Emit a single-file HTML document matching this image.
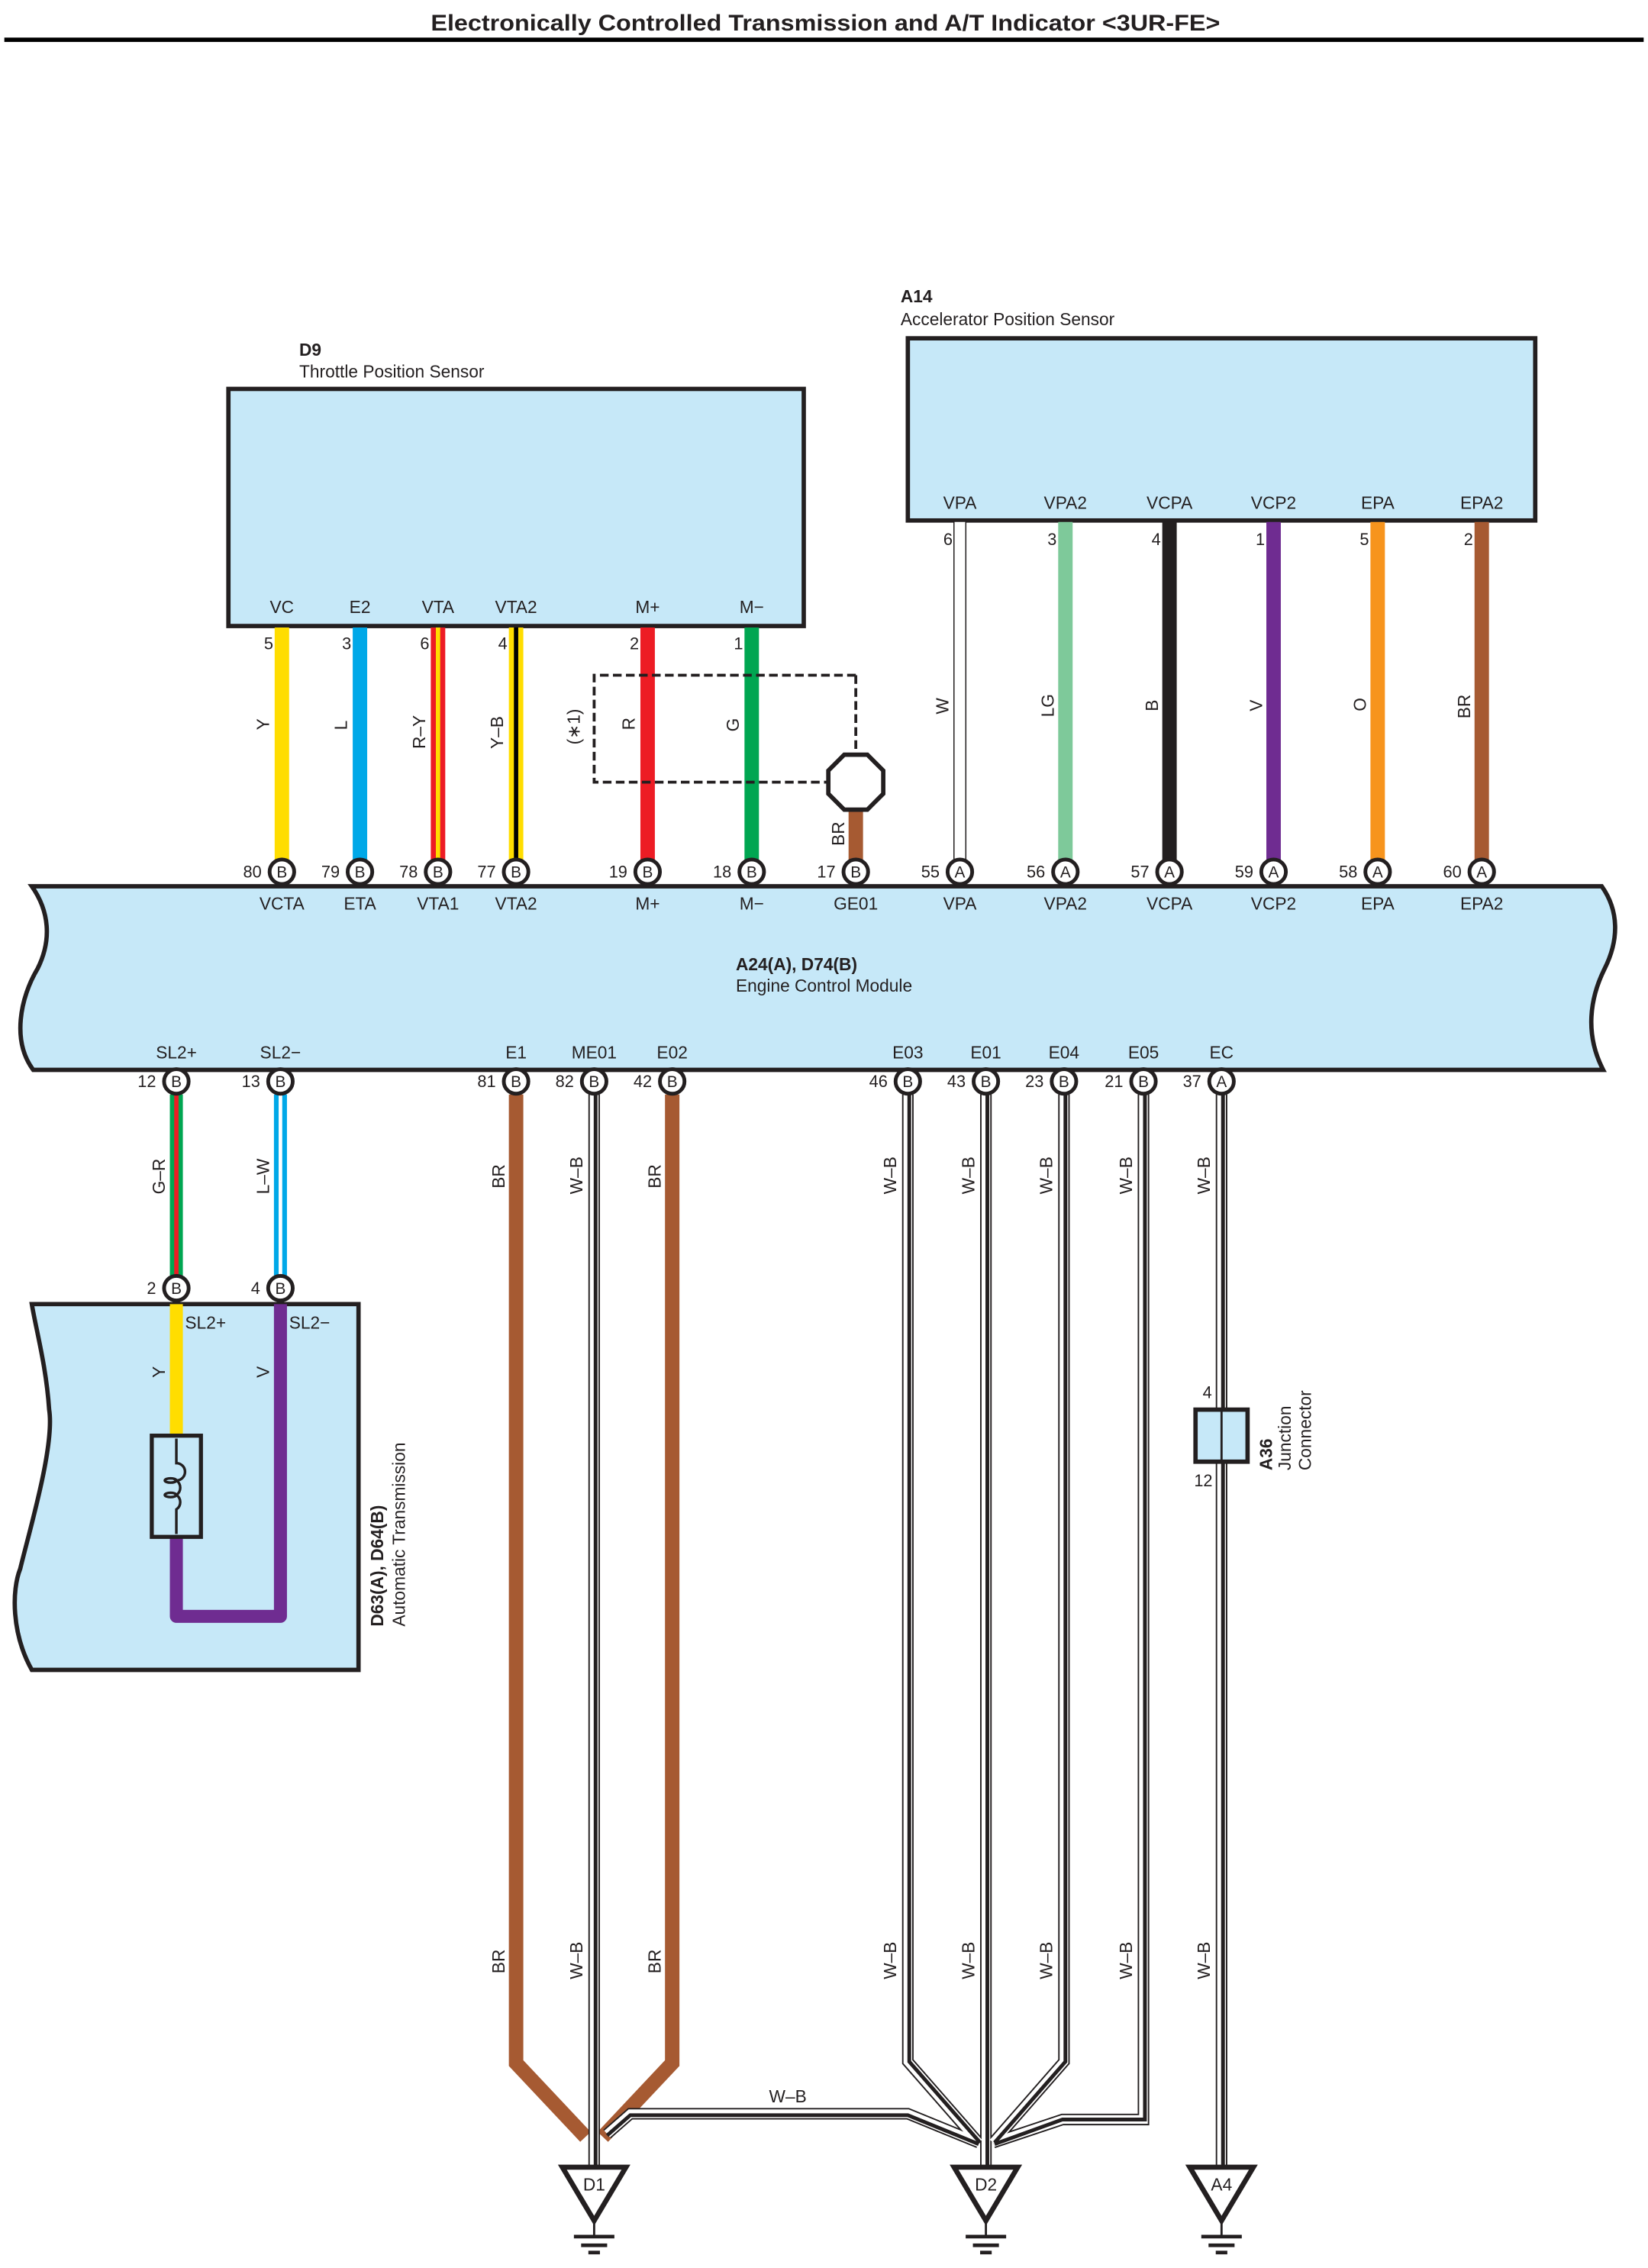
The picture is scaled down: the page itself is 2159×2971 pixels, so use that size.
<!DOCTYPE html>
<html><head><meta charset="utf-8"><style>
html,body{margin:0;padding:0;background:#fff;}
svg{display:block;}
text{font-family:"Liberation Sans",sans-serif;fill:#231f20;}
</style></head><body>
<svg width="2159" height="2971" viewBox="0 0 1140 1568.7" preserveAspectRatio="none" xmlns="http://www.w3.org/2000/svg">
<!-- title -->
<text x="571" y="21" font-size="15.5" font-weight="bold" text-anchor="middle" textLength="546" lengthAdjust="spacingAndGlyphs">Electronically Controlled Transmission and A/T Indicator &lt;3UR-FE&gt;</text>
<rect x="3" y="26" width="1134" height="3" fill="#000"/>

<!-- D9 -->
<text x="207" y="246" font-size="12" font-weight="bold">D9</text>
<text x="207" y="261" font-size="12">Throttle Position Sensor</text>
<rect x="158" y="269" width="398" height="164" fill="#c6e8f8" stroke="#231f20" stroke-width="3"/>
<g font-size="12" text-anchor="middle">
<text x="195" y="424">VC</text><text x="249" y="424">E2</text><text x="303" y="424">VTA</text><text x="357" y="424">VTA2</text><text x="448" y="424">M+</text><text x="520" y="424">M−</text>
</g>
<g font-size="11.5" text-anchor="end">
<text x="189" y="449">5</text><text x="243" y="449">3</text><text x="297" y="449">6</text><text x="351" y="449">4</text><text x="442" y="449">2</text><text x="514" y="449">1</text>
</g>
<!-- D9 wires -->
<line x1="195" y1="434" x2="195" y2="597" stroke="#ffdd00" stroke-width="10"/>
<line x1="249" y1="434" x2="249" y2="597" stroke="#00a8e8" stroke-width="10"/>
<line x1="303" y1="434" x2="303" y2="597" stroke="#ed1c24" stroke-width="10"/>
<line x1="303" y1="434" x2="303" y2="597" stroke="#ffdd00" stroke-width="3"/>
<line x1="357" y1="434" x2="357" y2="597" stroke="#ffdd00" stroke-width="10"/>
<line x1="357" y1="434" x2="357" y2="597" stroke="#000" stroke-width="3"/>
<line x1="448" y1="434" x2="448" y2="597" stroke="#ed1c24" stroke-width="10"/>
<line x1="520" y1="434" x2="520" y2="597" stroke="#00a651" stroke-width="10"/>
<line x1="592" y1="555" x2="592" y2="597" stroke="#a65a32" stroke-width="10"/>
<g font-size="12">
<text transform="translate(186,505) rotate(-90)">Y</text>
<text transform="translate(240,505) rotate(-90)">L</text>
<text transform="translate(294,518) rotate(-90)">R–Y</text>
<text transform="translate(348,518) rotate(-90)">Y–B</text>
<text transform="translate(439,505) rotate(-90)">R</text>
<text transform="translate(511,506) rotate(-90)">G</text>
<text transform="translate(584,585) rotate(-90)">BR</text>
<text transform="translate(401,515) rotate(-90)">(∗1)</text>
</g>
<!-- shield -->
<path d="M592,467 L411,467 L411,541 L572,541" fill="none" stroke="#231f20" stroke-width="2" stroke-dasharray="6,3"/>
<line x1="592" y1="467" x2="592" y2="522" stroke="#231f20" stroke-width="2" stroke-dasharray="6,3"/>
<polygon points="584,522 600,522 611,533 611,549 600,560 584,560 573,549 573,533" fill="#fff" stroke="#231f20" stroke-width="3"/>

<!-- A14 -->
<text x="623" y="209" font-size="12" font-weight="bold">A14</text>
<text x="623" y="225" font-size="12">Accelerator Position Sensor</text>
<rect x="628" y="234" width="434" height="126" fill="#c6e8f8" stroke="#231f20" stroke-width="3"/>
<g font-size="12" text-anchor="middle">
<text x="664" y="352">VPA</text><text x="737" y="352">VPA2</text><text x="809" y="352">VCPA</text><text x="881" y="352">VCP2</text><text x="953" y="352">EPA</text><text x="1025" y="352">EPA2</text>
</g>
<g font-size="11.5" text-anchor="end">
<text x="659" y="377">6</text><text x="731" y="377">3</text><text x="803" y="377">4</text><text x="875" y="377">1</text><text x="947" y="377">5</text><text x="1019" y="377">2</text>
</g>
<line x1="664" y1="361" x2="664" y2="597" stroke="#231f20" stroke-width="9"/>
<line x1="664" y1="361" x2="664" y2="597" stroke="#fff" stroke-width="7.4"/>
<line x1="737" y1="361" x2="737" y2="597" stroke="#7ec99a" stroke-width="10"/>
<line x1="809" y1="361" x2="809" y2="597" stroke="#231f20" stroke-width="10"/>
<line x1="881" y1="361" x2="881" y2="597" stroke="#6f2c91" stroke-width="10"/>
<line x1="953" y1="361" x2="953" y2="597" stroke="#f7941d" stroke-width="10"/>
<line x1="1025" y1="361" x2="1025" y2="597" stroke="#a65a32" stroke-width="10"/>
<g font-size="12">
<text transform="translate(656,494) rotate(-90)">W</text>
<text transform="translate(729,496) rotate(-90)">LG</text>
<text transform="translate(801,492) rotate(-90)">B</text>
<text transform="translate(873,492) rotate(-90)">V</text>
<text transform="translate(945,492) rotate(-90)">O</text>
<text transform="translate(1017,497) rotate(-90)">BR</text>
</g>

<!-- ECM -->
<path d="M22,613 L1108,613 C1120,630 1120,650 1110,670 C1100,690 1096,715 1109,740 L23,740 C8,720 14,690 26,670 C36,650 34,630 22,613 Z" fill="#c6e8f8" stroke="#231f20" stroke-width="3"/>
<g font-size="12" text-anchor="middle">
<text x="195" y="629">VCTA</text><text x="249" y="629">ETA</text><text x="303" y="629">VTA1</text><text x="357" y="629">VTA2</text><text x="448" y="629">M+</text><text x="520" y="629">M−</text><text x="592" y="629">GE01</text>
<text x="664" y="629">VPA</text><text x="737" y="629">VPA2</text><text x="809" y="629">VCPA</text><text x="881" y="629">VCP2</text><text x="953" y="629">EPA</text><text x="1025" y="629">EPA2</text>
</g>
<text x="509" y="671" font-size="12" font-weight="bold">A24(A), D74(B)</text>
<text x="509" y="686" font-size="12">Engine Control Module</text>
<g font-size="12" text-anchor="middle">
<text x="122" y="732">SL2+</text><text x="194" y="732">SL2−</text><text x="357" y="732">E1</text><text x="411" y="732">ME01</text><text x="465" y="732">E02</text>
<text x="628" y="732">E03</text><text x="682" y="732">E01</text><text x="736" y="732">E04</text><text x="791" y="732">E05</text><text x="845" y="732">EC</text>
</g>

<!-- lower wires -->
<line x1="122" y1="757" x2="122" y2="884" stroke="#00a651" stroke-width="9"/>
<line x1="122" y1="757" x2="122" y2="884" stroke="#ed1c24" stroke-width="3"/>
<line x1="194" y1="757" x2="194" y2="884" stroke="#00a8e8" stroke-width="9"/>
<line x1="194" y1="757" x2="194" y2="884" stroke="#fff" stroke-width="2.5"/>
<g font-size="12">
<text transform="translate(114,826) rotate(-90)">G–R</text>
<text transform="translate(186,826) rotate(-90)">L–W</text>
</g>

<!-- AT box -->
<path d="M22,902 L248,902 L248,1155 L22,1155 C8,1130 8,1100 14,1085 C20,1060 38,1000 34,975 C32,945 25,920 22,902 Z" fill="#c6e8f8" stroke="#231f20" stroke-width="3"/>
<line x1="122" y1="902" x2="122" y2="995" stroke="#ffdd00" stroke-width="9"/>
<path d="M122,1062 L122,1118 L194,1118 L194,902" fill="none" stroke="#6f2c91" stroke-width="9" stroke-linejoin="round"/>
<rect x="105" y="993" width="34" height="70" fill="#c6e8f8" stroke="#231f20" stroke-width="2.8"/>
<path d="M122,995 L122,1012 A6,6 0 0 1 122,1024 A6,6 0 0 1 122,1034 A6,6 0 0 1 122,1044 L122,1061 M122,1024 A4,1.5 0 1 0 114,1024 A4,1.5 0 1 0 122,1024 M122,1034 A4,1.5 0 1 0 114,1034 A4,1.5 0 1 0 122,1034" fill="none" stroke="#231f20" stroke-width="1.8"/>
<text x="128" y="919" font-size="12">SL2+</text>
<text x="200" y="919" font-size="12">SL2−</text>
<text transform="translate(114,953) rotate(-90)" font-size="12">Y</text>
<text transform="translate(186,953) rotate(-90)" font-size="12">V</text>
<text transform="translate(265,1125) rotate(-90)" font-size="12" font-weight="bold">D63(A), D64(B)</text>
<text transform="translate(280,1125) rotate(-90)" font-size="12">Automatic Transmission</text>

<!-- E1/E02 brown -->
<path d="M357,757 L357,1427 L405,1478" fill="none" stroke="#a65a32" stroke-width="10" stroke-linejoin="miter"/>
<path d="M465,757 L465,1427 L417,1478" fill="none" stroke="#a65a32" stroke-width="10"/>

<!-- W-B wires -->
<g fill="none" stroke-linejoin="miter">
<g stroke="#231f20" stroke-width="8">
<path d="M411,757 L411,1500"/>
<path d="M420,1476 L436,1462 L628,1462 L677,1482"/>
<path d="M628,757 L628,1426 L677,1482"/>
<path d="M682,757 L682,1500"/>
<path d="M736,757 L736,1426 L687,1482"/>
<path d="M791,757 L791,1466 L735,1466 L687,1482"/>
<path d="M845,757 L845,1500"/>
</g>
<g stroke="#fff" stroke-width="6">
<path d="M411,757 L411,1500"/>
<path d="M420,1476 L436,1462 L628,1462 L677,1482"/>
<path d="M628,757 L628,1426 L677,1482"/>
<path d="M682,757 L682,1500"/>
<path d="M736,757 L736,1426 L687,1482"/>
<path d="M791,757 L791,1466 L735,1466 L687,1482"/>
<path d="M845,757 L845,1500"/>
</g>
<g stroke="#231f20" stroke-width="2.6">
<path d="M412,757 L412,1500"/>
<path d="M420,1477 L436,1463 L628,1463 L677,1483"/>
<path d="M629,757 L629,1426 L678,1482"/>
<path d="M683,757 L683,1500"/>
<path d="M737,757 L737,1426 L688,1482"/>
<path d="M792,757 L792,1466 L735,1466 L688,1483"/>
<path d="M846,757 L846,1500"/>
</g>
</g>
<g font-size="12">
<text transform="translate(349,822) rotate(-90)">BR</text>
<text transform="translate(403,826) rotate(-90)">W–B</text>
<text transform="translate(457,822) rotate(-90)">BR</text>
<text transform="translate(620,826) rotate(-90)">W–B</text>
<text transform="translate(674,826) rotate(-90)">W–B</text>
<text transform="translate(728,826) rotate(-90)">W–B</text>
<text transform="translate(783,826) rotate(-90)">W–B</text>
<text transform="translate(837,826) rotate(-90)">W–B</text>
<text transform="translate(349,1365) rotate(-90)">BR</text>
<text transform="translate(403,1369) rotate(-90)">W–B</text>
<text transform="translate(457,1365) rotate(-90)">BR</text>
<text transform="translate(620,1369) rotate(-90)">W–B</text>
<text transform="translate(674,1369) rotate(-90)">W–B</text>
<text transform="translate(728,1369) rotate(-90)">W–B</text>
<text transform="translate(783,1369) rotate(-90)">W–B</text>
<text transform="translate(837,1369) rotate(-90)">W–B</text>
<text x="532" y="1454">W–B</text>
</g>

<!-- junction connector A36 -->
<rect x="827" y="975" width="36" height="36" fill="#c6e8f8" stroke="#231f20" stroke-width="3"/>
<line x1="845" y1="975" x2="845" y2="1011" stroke="#231f20" stroke-width="1.5"/>
<text x="832" y="967" font-size="11.5">4</text>
<text x="826" y="1028" font-size="11.5">12</text>
<text transform="translate(880,1017) rotate(-90)" font-size="12" font-weight="bold">A36</text>
<text transform="translate(893,1017) rotate(-90)" font-size="12">Junction</text>
<text transform="translate(907,1017) rotate(-90)" font-size="12">Connector</text>

<!-- grounds -->
<g stroke="#231f20" fill="#fff">
<polygon points="389,1499 433,1499 411,1536" stroke-width="3.5"/>
<polygon points="660,1499 704,1499 682,1536" stroke-width="3.5"/>
<polygon points="823,1499 867,1499 845,1536" stroke-width="3.5"/>
<path d="M411,1536 V1547 M682,1536 V1547 M845,1536 V1547" stroke-width="1.5"/>
<path d="M397,1547 H425 M402,1553 H420 M407,1558 H415 M668,1547 H696 M673,1553 H691 M678,1558 H686 M831,1547 H859 M836,1553 H854 M841,1558 H849" stroke-width="2.5"/>
</g>
<g font-size="12" text-anchor="middle">
<text x="411" y="1515">D1</text><text x="682" y="1515">D2</text><text x="845" y="1515">A4</text>
</g>

<!-- connector circles -->
<g stroke="#231f20" stroke-width="2.6" fill="#fff">
<circle cx="195" cy="603" r="8.5"/><circle cx="249" cy="603" r="8.5"/><circle cx="303" cy="603" r="8.5"/><circle cx="357" cy="603" r="8.5"/><circle cx="448" cy="603" r="8.5"/><circle cx="520" cy="603" r="8.5"/><circle cx="592" cy="603" r="8.5"/>
<circle cx="664" cy="603" r="8.5"/><circle cx="737" cy="603" r="8.5"/><circle cx="809" cy="603" r="8.5"/><circle cx="881" cy="603" r="8.5"/><circle cx="953" cy="603" r="8.5"/><circle cx="1025" cy="603" r="8.5"/>
<circle cx="122" cy="748" r="8.5"/><circle cx="194" cy="748" r="8.5"/><circle cx="357" cy="748" r="8.5"/><circle cx="411" cy="748" r="8.5"/><circle cx="465" cy="748" r="8.5"/><circle cx="628" cy="748" r="8.5"/><circle cx="682" cy="748" r="8.5"/><circle cx="736" cy="748" r="8.5"/><circle cx="791" cy="748" r="8.5"/><circle cx="845" cy="748" r="8.5"/>
<circle cx="122" cy="891" r="8.5"/><circle cx="194" cy="891" r="8.5"/>
</g>
<g font-size="11" text-anchor="middle">
<text x="195" y="607">B</text><text x="249" y="607">B</text><text x="303" y="607">B</text><text x="357" y="607">B</text><text x="448" y="607">B</text><text x="520" y="607">B</text><text x="592" y="607">B</text>
<text x="664" y="607">A</text><text x="737" y="607">A</text><text x="809" y="607">A</text><text x="881" y="607">A</text><text x="953" y="607">A</text><text x="1025" y="607">A</text>
<text x="122" y="752">B</text><text x="194" y="752">B</text><text x="357" y="752">B</text><text x="411" y="752">B</text><text x="465" y="752">B</text><text x="628" y="752">B</text><text x="682" y="752">B</text><text x="736" y="752">B</text><text x="791" y="752">B</text><text x="845" y="752">A</text>
<text x="122" y="895">B</text><text x="194" y="895">B</text>
</g>
<g font-size="11.5" text-anchor="end">
<text x="181" y="607">80</text><text x="235" y="607">79</text><text x="289" y="607">78</text><text x="343" y="607">77</text><text x="434" y="607">19</text><text x="506" y="607">18</text><text x="578" y="607">17</text>
<text x="650" y="607">55</text><text x="723" y="607">56</text><text x="795" y="607">57</text><text x="867" y="607">59</text><text x="939" y="607">58</text><text x="1011" y="607">60</text>
<text x="108" y="752">12</text><text x="180" y="752">13</text><text x="343" y="752">81</text><text x="397" y="752">82</text><text x="451" y="752">42</text><text x="614" y="752">46</text><text x="668" y="752">43</text><text x="722" y="752">23</text><text x="777" y="752">21</text><text x="831" y="752">37</text>
<text x="108" y="895">2</text><text x="180" y="895">4</text>
</g>
</svg>
</body></html>
